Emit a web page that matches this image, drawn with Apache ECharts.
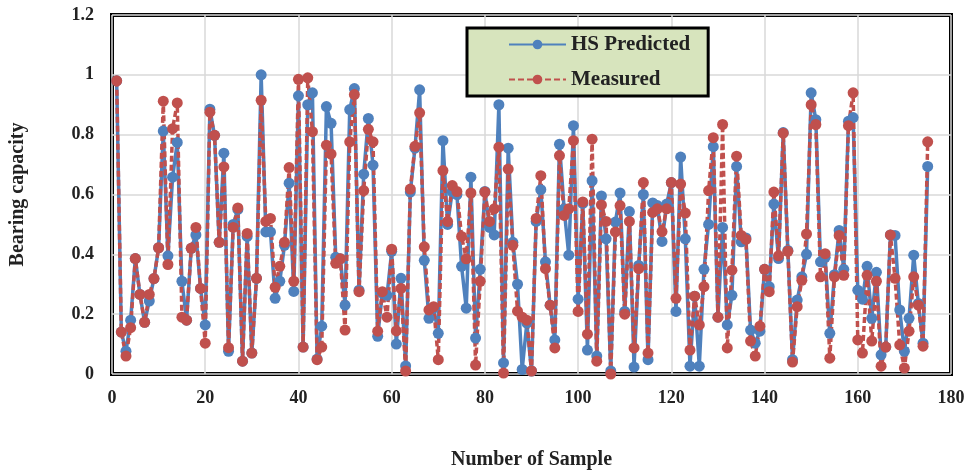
<!DOCTYPE html>
<html>
<head>
<meta charset="utf-8">
<script src="https://cdn.jsdelivr.net/npm/echarts@6/dist/echarts.min.js"></script>
<style>
  html, body { margin: 0; padding: 0; background: #fff; }
  #chart { width: 969px; height: 475px; }
</style>
</head>
<body>
<div id="chart"></div>
<script>
// 数据: 样本编号 1..175
const hsPredicted = [
  0.98, 0.14, 0.076, 0.18, 0.386, 0.266, 0.173, 0.244, 0.319, 0.422,
  0.812, 0.395, 0.658, 0.774, 0.31, 0.18, 0.42, 0.465, 0.286, 0.164,
  0.885, 0.798, 0.44, 0.738, 0.076, 0.50, 0.55, 0.043, 0.46, 0.07,
  0.32, 1.0, 0.475, 0.475, 0.253, 0.31, 0.43, 0.638, 0.276, 0.93,
  0.09, 0.90, 0.94, 0.05, 0.16, 0.894, 0.838, 0.39, 0.385, 0.23,
  0.884, 0.954, 0.28, 0.668, 0.854, 0.698, 0.126, 0.27, 0.263, 0.41,
  0.10, 0.32, 0.027, 0.608, 0.755, 0.95, 0.38, 0.186, 0.22, 0.136,
  0.78, 0.50, 0.61, 0.60, 0.36, 0.22, 0.658, 0.12, 0.35, 0.61,
  0.49, 0.465, 0.90, 0.037, 0.755, 0.44, 0.30, 0.015, 0.17, 0.01,
  0.51, 0.616, 0.375, 0.23, 0.114, 0.768, 0.552, 0.397, 0.83, 0.25,
  0.57, 0.08, 0.646, 0.06, 0.595, 0.452, 0.01, 0.508, 0.605, 0.209,
  0.543, 0.023, 0.363, 0.60, 0.048, 0.572, 0.563, 0.443, 0.568, 0.64,
  0.209, 0.725, 0.452, 0.026, 0.26, 0.026, 0.35, 0.50, 0.76, 0.19,
  0.49, 0.164, 0.263, 0.694, 0.442, 0.455, 0.147, 0.103, 0.143, 0.35,
  0.292, 0.568, 0.386, 0.807, 0.413, 0.048, 0.247, 0.325, 0.40, 0.94,
  0.85, 0.375, 0.39, 0.136, 0.332, 0.48, 0.35, 0.845, 0.857, 0.28,
  0.25, 0.36, 0.186, 0.34, 0.064, 0.09, 0.465, 0.463, 0.214, 0.076,
  0.186, 0.397, 0.236, 0.103, 0.694
]
const measured = [
  0.98, 0.14, 0.06, 0.155, 0.386, 0.266, 0.173, 0.266, 0.319, 0.422,
  0.912, 0.366, 0.82, 0.906, 0.19, 0.18, 0.42, 0.49, 0.286, 0.103,
  0.875, 0.798, 0.44, 0.692, 0.088, 0.49, 0.555, 0.043, 0.47, 0.07,
  0.32, 0.915, 0.51, 0.52, 0.29, 0.36, 0.44, 0.69, 0.31, 0.985,
  0.09, 0.99, 0.81, 0.048, 0.09, 0.765, 0.735, 0.37, 0.385, 0.147,
  0.776, 0.934, 0.275, 0.613, 0.818, 0.776, 0.143, 0.275, 0.19, 0.417,
  0.144, 0.286, 0.01, 0.618, 0.761, 0.873, 0.425, 0.214, 0.225, 0.048,
  0.68, 0.51, 0.63, 0.61, 0.46, 0.385, 0.605, 0.03, 0.31, 0.608,
  0.51, 0.552, 0.758, 0.003, 0.685, 0.43, 0.21, 0.19, 0.18, 0.01,
  0.52, 0.663, 0.352, 0.23, 0.087, 0.73, 0.53, 0.552, 0.78, 0.209,
  0.575, 0.133, 0.785, 0.043, 0.565, 0.51, 0.0, 0.475, 0.563, 0.20,
  0.51, 0.087, 0.352, 0.64, 0.07, 0.54, 0.552, 0.476, 0.552, 0.64,
  0.253, 0.635, 0.538, 0.08, 0.26, 0.164, 0.292, 0.613, 0.79, 0.19,
  0.834, 0.087, 0.347, 0.728, 0.463, 0.45, 0.11, 0.06, 0.16, 0.35,
  0.275, 0.608, 0.395, 0.805, 0.41, 0.04, 0.225, 0.313, 0.468, 0.90,
  0.834, 0.325, 0.402, 0.053, 0.325, 0.463, 0.33, 0.83, 0.94, 0.114,
  0.07, 0.33, 0.11, 0.31, 0.026, 0.09, 0.465, 0.32, 0.097, 0.02,
  0.143, 0.325, 0.23, 0.093, 0.776
]
const seriesNames = ['HS Predicted', 'Measured']

const font = '"Liberation Serif", "Times New Roman", serif'
const toPairs = arr => arr.map((v, i) => [i + 1, v])

const chart = echarts.init(document.getElementById('chart'))
chart.setOption({
  animation: false,
  backgroundColor: '#fff',
  grid: {
    left: 108,
    right: 18,
    top: 15,
    bottom: 99,
    show: true,
    borderColor: '#000',
    borderWidth: 4
  },
  legend: {
    orient: 'vertical',
    left: 467,
    top: 28,
    data: seriesNames,
    backgroundColor: '#d7e4bd',
    borderColor: '#000',
    borderWidth: 3,
    padding: [6, 18, 6, 41],
    itemWidth: 57,
    itemHeight: 12,
    itemGap: 14,
    textStyle: {
      fontFamily: font,
      fontWeight: 'bold',
      fontSize: 21,
      color: '#222'
    }
  },
  xAxis: {
    type: 'value',
    min: 0,
    max: 180,
    interval: 20,
    name: 'Number of Sample',
    nameLocation: 'middle',
    nameGap: 76,
    nameTextStyle: {
      fontFamily: font,
      fontWeight: 'bold',
      fontSize: 20,
      color: '#222'
    },
    axisLine: { show: false },
    axisTick: { show: false },
    axisLabel: {
      margin: 15,
      fontFamily: font,
      fontWeight: 'bold',
      fontSize: 18,
      color: '#222'
    },
    splitLine: {
      show: true,
      lineStyle: { color: '#d9d9d9', width: 1.5 }
    }
  },
  yAxis: {
    type: 'value',
    min: 0,
    max: 1.2,
    interval: 0.2,
    name: 'Bearing capacity',
    nameLocation: 'middle',
    nameGap: 84,
    nameTextStyle: {
      fontFamily: font,
      fontWeight: 'bold',
      fontSize: 20,
      color: '#222'
    },
    axisLine: { show: false },
    axisTick: { show: false },
    axisLabel: {
      margin: 18,
      fontFamily: font,
      fontWeight: 'bold',
      fontSize: 18,
      color: '#222',
      formatter: v => String(Math.round(v * 10) / 10)
    },
    splitLine: {
      show: true,
      lineStyle: { color: '#d9d9d9', width: 1.5 }
    }
  },
  series: [{
    name: seriesNames[0],
    type: 'line',
    data: toPairs(hsPredicted),
    symbol: 'circle',
    symbolSize: 11,
    showAllSymbol: true,
    itemStyle: { color: '#4f81bd' },
    lineStyle: { color: '#4f81bd', width: 3.5 }
  }, {
    name: seriesNames[1],
    type: 'line',
    data: toPairs(measured),
    symbol: 'circle',
    symbolSize: 11,
    showAllSymbol: true,
    itemStyle: { color: '#c0504d' },
    lineStyle: { color: '#c0504d', width: 3.5, type: [6, 3] }
  }]
})
</script>
</body>
</html>
